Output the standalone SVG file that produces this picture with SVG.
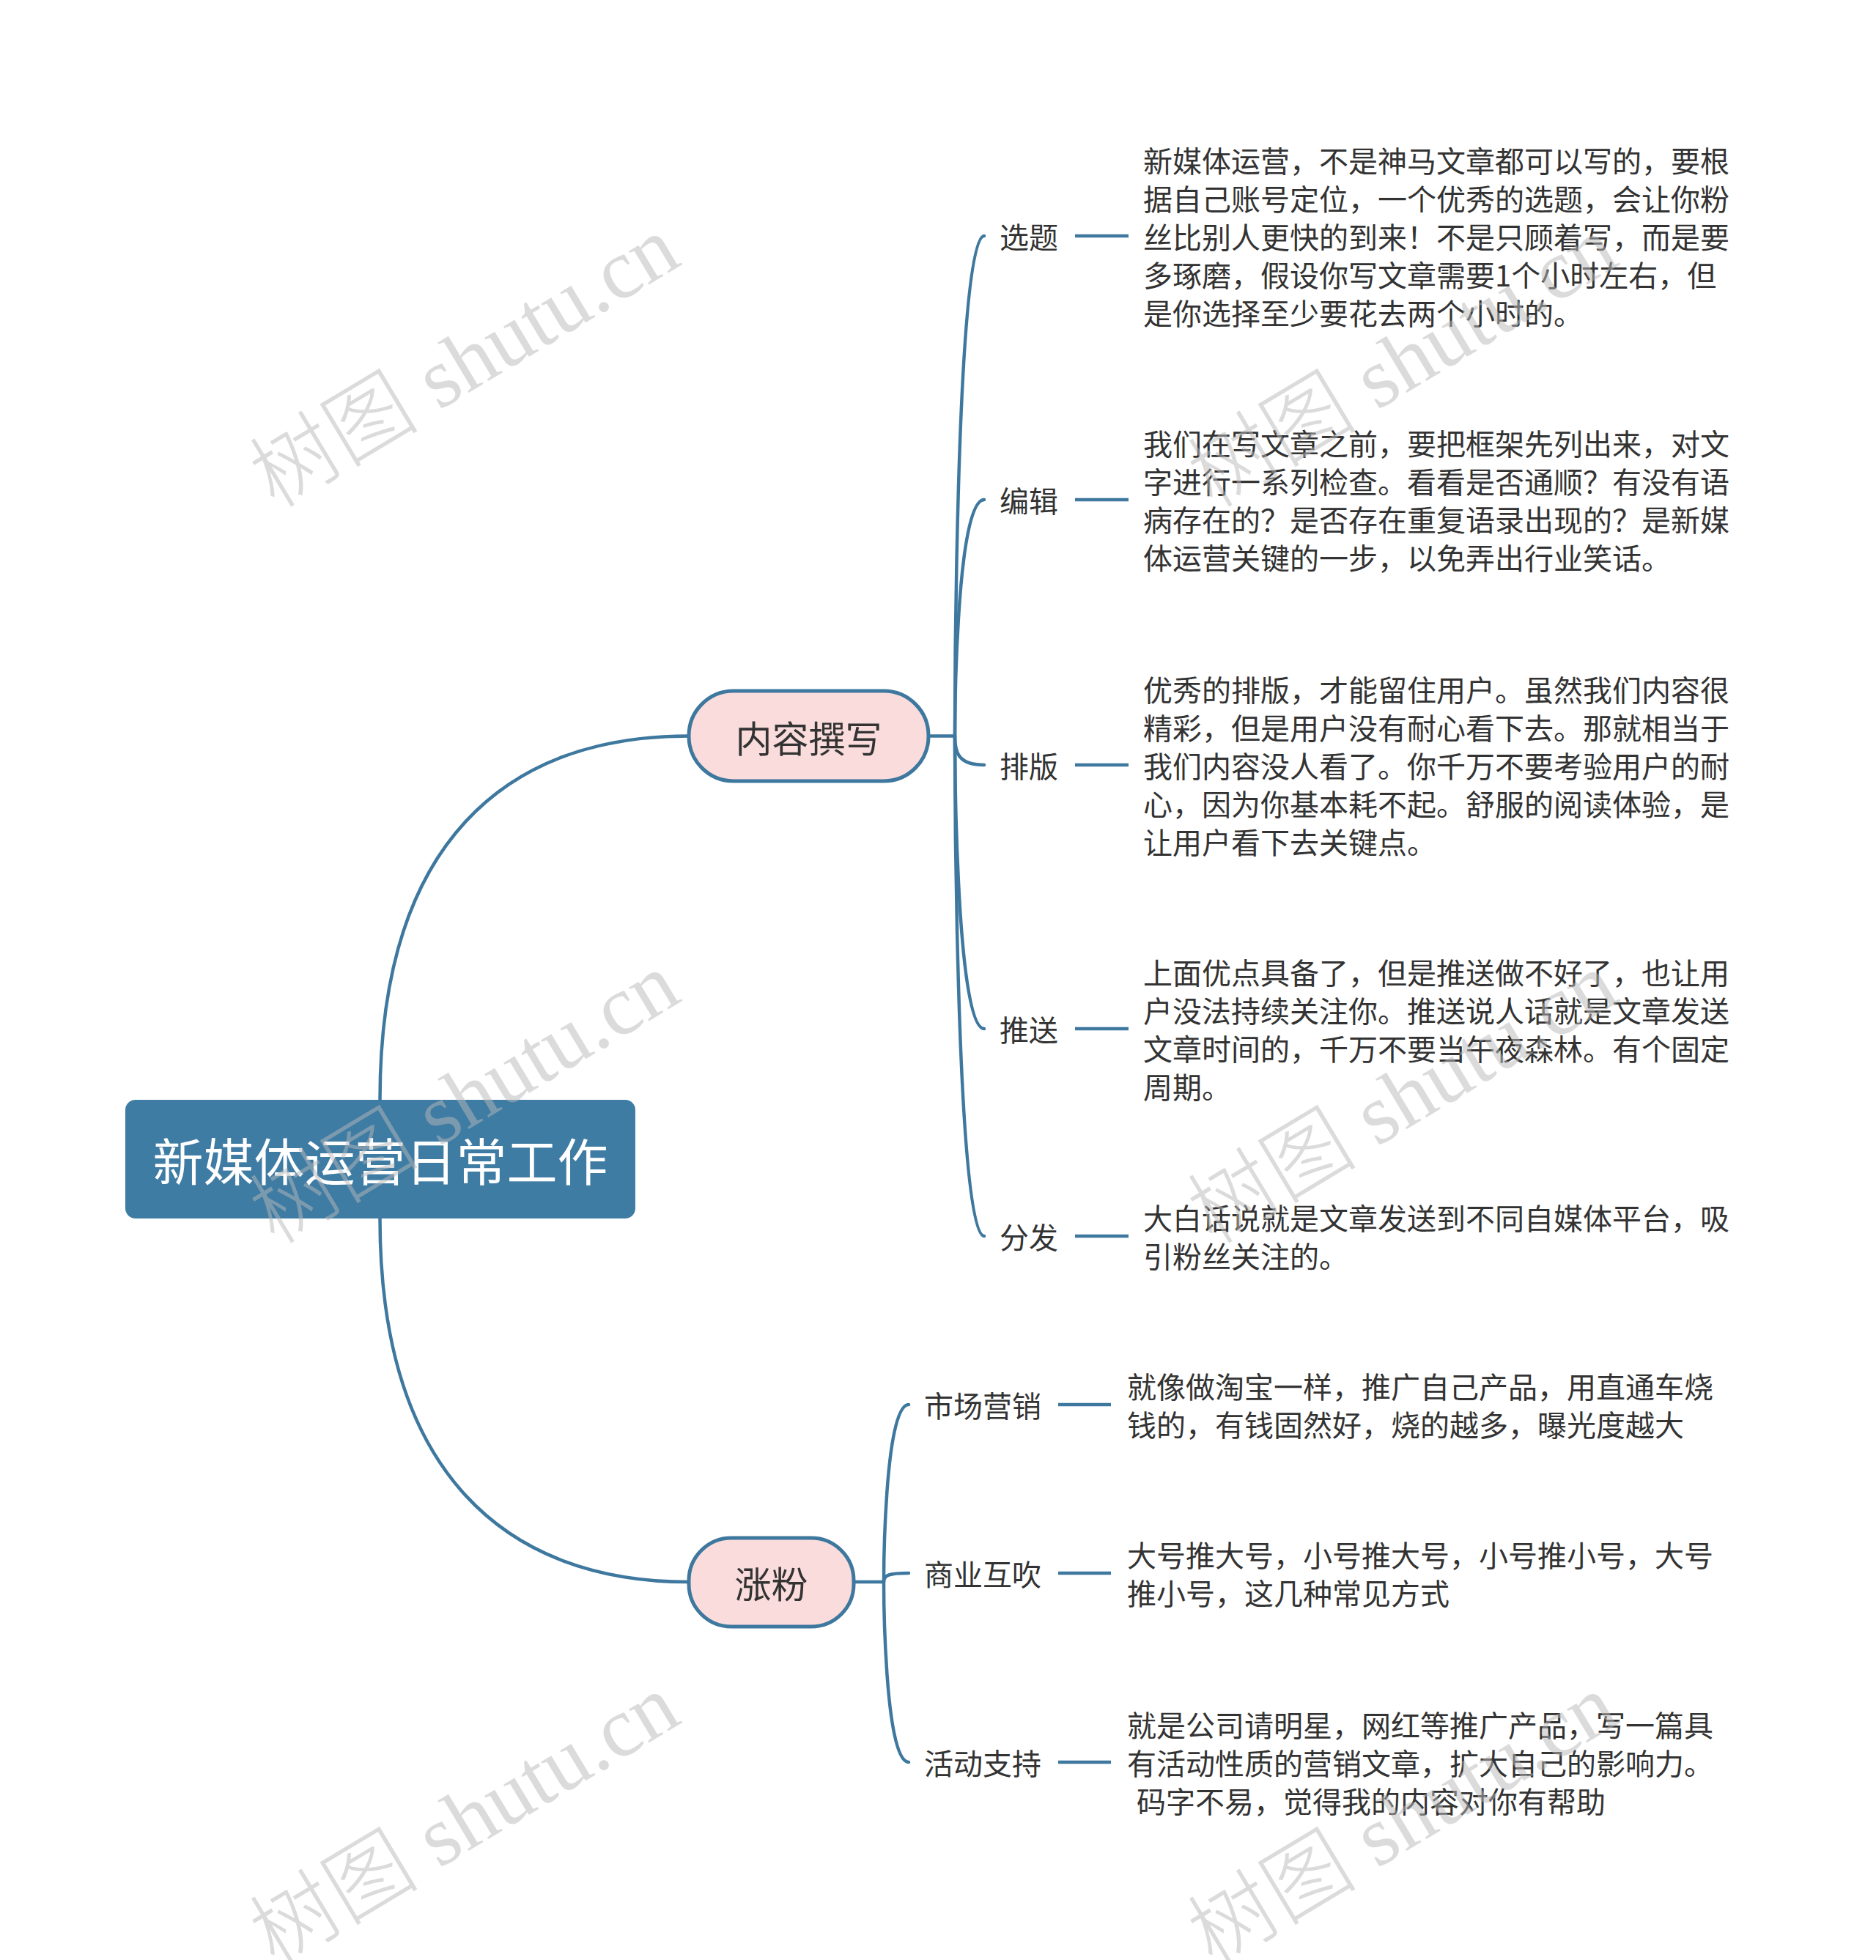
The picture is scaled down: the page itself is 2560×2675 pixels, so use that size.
<svg xmlns="http://www.w3.org/2000/svg" width="2560" height="2675" viewBox="0 0 2560 2675">
<style>
.bg{fill:#ffffff}
.line{fill:none;stroke:#3e789f;stroke-width:4.5;stroke-linecap:round}
.stub{fill:none;stroke:#3e789f;stroke-width:4.5}
.root{fill:#3f7ca4}
.rootT{font-family:"Noto Sans CJK SC","Noto Sans",sans-serif;font-size:69px;fill:#ffffff;text-anchor:middle;dominant-baseline:central}
.main{fill:#fadcdc;stroke:#3e789f;stroke-width:5}
.mainT{font-family:"Noto Sans CJK SC","Noto Sans",sans-serif;font-size:50px;fill:#333333;text-anchor:middle;dominant-baseline:central}
.lbl{font-family:"Noto Sans CJK SC","Noto Sans",sans-serif;font-size:40px;fill:#333333;dominant-baseline:central}
.wm{font-family:"Liberation Serif","Noto Sans CJK SC",serif;font-size:116px;font-weight:300;fill:#b9b9b9;opacity:0.5}
</style>
<rect class="bg" x="0" y="0" width="2560" height="2675"/>
<g id="connectors">
<path class="line" d="M518.5,1501 C518.5,1150 690,1004.5 940,1004.5"/>
<path class="line" d="M518.5,1663 C518.5,2010 690,2159 940,2159"/>
<path class="stub" d="M1267,1004.5 L1303,1004.5"/>
<path class="line" d="M1303,1004.5 C1303,1004.5 1303,322 1343,322"/>
<path class="line" d="M1303,1004.5 C1303,1004.5 1303,682 1343,682"/>
<path class="line" d="M1303,1004.5 C1303,1030 1310,1044 1343,1044"/>
<path class="line" d="M1303,1004.5 C1303,1004.5 1303,1404 1343,1404"/>
<path class="line" d="M1303,1004.5 C1303,1004.5 1303,1687 1343,1687"/>
<path class="stub" d="M1165,2159 L1206,2159"/>
<path class="line" d="M1206,2159 C1206,2159 1206,1917 1240,1917"/>
<path class="line" d="M1206,2159 C1206,2150 1212,2147 1240,2147"/>
<path class="line" d="M1206,2159 C1206,2159 1206,2405 1240,2405"/>
<path class="stub" d="M1467,322 L1540,322"/>
<path class="stub" d="M1467,682 L1540,682"/>
<path class="stub" d="M1467,1044 L1540,1044"/>
<path class="stub" d="M1467,1404 L1540,1404"/>
<path class="stub" d="M1467,1687 L1540,1687"/>
<path class="stub" d="M1444,1917 L1516,1917"/>
<path class="stub" d="M1444,2147 L1516,2147"/>
<path class="stub" d="M1444,2405 L1516,2405"/>
</g>
<g id="root">
<rect class="root" x="171" y="1501" width="696" height="162" rx="14"/>
<text class="rootT" x="519" y="1582">新媒体运营日常工作</text>
</g>
<g id="n-neirong">
<rect class="main" x="940" y="943" width="327" height="123" rx="61"/>
<text class="mainT" x="1103.5" y="1004.5">内容撰写</text>
</g>
<g id="n-zhangfen">
<rect class="main" x="940" y="2099" width="225" height="121" rx="58"/>
<text class="mainT" x="1052.5" y="2159">涨粉</text>
</g>
<g id="n-xuanti">
<text class="lbl" x="1364" y="322">选题</text>
</g>
<g id="d-xuanti">
<text class="lbl" x="1560" y="218">新媒体运营，不是神马文章都可以写的，要根</text>
<text class="lbl" x="1560" y="270">据自己账号定位，一个优秀的选题，会让你粉</text>
<text class="lbl" x="1560" y="322">丝比别人更快的到来！不是只顾着写，而是要</text>
<text class="lbl" x="1560" y="374">多琢磨，假设你写文章需要1个小时左右，但</text>
<text class="lbl" x="1560" y="426">是你选择至少要花去两个小时的。</text>
</g>
<g id="n-bianji">
<text class="lbl" x="1364" y="682">编辑</text>
</g>
<g id="d-bianji">
<text class="lbl" x="1560" y="604">我们在写文章之前，要把框架先列出来，对文</text>
<text class="lbl" x="1560" y="656">字进行一系列检查。看看是否通顺？有没有语</text>
<text class="lbl" x="1560" y="708">病存在的？是否存在重复语录出现的？是新媒</text>
<text class="lbl" x="1560" y="760">体运营关键的一步，以免弄出行业笑话。</text>
</g>
<g id="n-paiban">
<text class="lbl" x="1364" y="1044">排版</text>
</g>
<g id="d-paiban">
<text class="lbl" x="1560" y="940">优秀的排版，才能留住用户。虽然我们内容很</text>
<text class="lbl" x="1560" y="992">精彩，但是用户没有耐心看下去。那就相当于</text>
<text class="lbl" x="1560" y="1044">我们内容没人看了。你千万不要考验用户的耐</text>
<text class="lbl" x="1560" y="1096">心，因为你基本耗不起。舒服的阅读体验，是</text>
<text class="lbl" x="1560" y="1148">让用户看下去关键点。</text>
</g>
<g id="n-tuisong">
<text class="lbl" x="1364" y="1404">推送</text>
</g>
<g id="d-tuisong">
<text class="lbl" x="1560" y="1326">上面优点具备了，但是推送做不好了，也让用</text>
<text class="lbl" x="1560" y="1378">户没法持续关注你。推送说人话就是文章发送</text>
<text class="lbl" x="1560" y="1430">文章时间的，千万不要当午夜森林。有个固定</text>
<text class="lbl" x="1560" y="1482">周期。</text>
</g>
<g id="n-fenfa">
<text class="lbl" x="1364" y="1687">分发</text>
</g>
<g id="d-fenfa">
<text class="lbl" x="1560" y="1661">大白话说就是文章发送到不同自媒体平台，吸</text>
<text class="lbl" x="1560" y="1713">引粉丝关注的。</text>
</g>
<g id="n-shichang">
<text class="lbl" x="1261" y="1917">市场营销</text>
</g>
<g id="d-shichang">
<text class="lbl" x="1538" y="1891">就像做淘宝一样，推广自己产品，用直通车烧</text>
<text class="lbl" x="1538" y="1943">钱的，有钱固然好，烧的越多，曝光度越大</text>
</g>
<g id="n-shangye">
<text class="lbl" x="1261" y="2147">商业互吹</text>
</g>
<g id="d-shangye">
<text class="lbl" x="1538" y="2121">大号推大号，小号推大号，小号推小号，大号</text>
<text class="lbl" x="1538" y="2173">推小号，这几种常见方式</text>
</g>
<g id="n-huodong">
<text class="lbl" x="1261" y="2405">活动支持</text>
</g>
<g id="d-huodong">
<text class="lbl" x="1538" y="2353">就是公司请明星，网红等推广产品，写一篇具</text>
<text class="lbl" x="1538" y="2405">有活动性质的营销文章，扩大自己的影响力。</text>
<text class="lbl" x="1551" y="2457">码字不易，觉得我的内容对你有帮助</text>
</g>
<g id="watermarks">
<text class="wm" x="375" y="695" transform="rotate(-31 375 695)">树图 shutu.cn</text>
<text class="wm" x="375" y="1700" transform="rotate(-31 375 1700)">树图 shutu.cn</text>
<text class="wm" x="375" y="2685" transform="rotate(-31 375 2685)">树图 shutu.cn</text>
<text class="wm" x="1655" y="695" transform="rotate(-31 1655 695)">树图 shutu.cn</text>
<text class="wm" x="1655" y="1700" transform="rotate(-31 1655 1700)">树图 shutu.cn</text>
<text class="wm" x="1655" y="2685" transform="rotate(-31 1655 2685)">树图 shutu.cn</text>
</g>
</svg>
